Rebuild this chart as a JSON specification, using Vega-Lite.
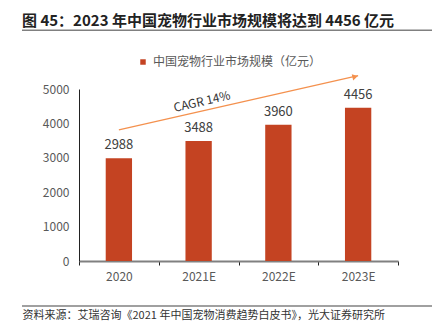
{
  "$schema": "https://vega.github.io/schema/vega-lite/v6.json",
  "width": 319,
  "height": 172,
  "autosize": {"type": "none"},
  "padding": {"left": 79, "top": 89, "right": 34, "bottom": 69},
  "background": "white",
  "config": {
    "font": "Noto Sans CJK SC",
    "view": {"stroke": null},
    "axis": {"grid": false}
  },
  "title": {
    "text": "图 45：2023 年中国宠物行业市场规模将达到 4456 亿元",
    "anchor": "start",
    "frame": "group",
    "dx": -57,
    "dy": 14,
    "fontSize": 15,
    "fontWeight": "bold",
    "color": "#222222",
    "baseline": "middle",
    "offset": 8
  },
  "resolve": {"scale": {"x": "independent", "y": "independent"}},
  "layer": [
    {
      "data": {
        "values": [
          {"year": "2020", "value": 2988, "series": "中国宠物行业市场规模（亿元）"},
          {"year": "2021E", "value": 3488, "series": "中国宠物行业市场规模（亿元）"},
          {"year": "2022E", "value": 3960, "series": "中国宠物行业市场规模（亿元）"},
          {"year": "2023E", "value": 4456, "series": "中国宠物行业市场规模（亿元）"}
        ]
      },
      "encoding": {
        "x": {
          "field": "year",
          "type": "nominal",
          "sort": null,
          "scale": {"paddingInner": 0, "paddingOuter": 0},
          "axis": {
            "labelAngle": 0,
            "labelFontSize": 12,
            "labelColor": "#595959",
            "labelPadding": 6,
            "domainColor": "#808080",
            "domainWidth": 2,
            "tickBand": "extent",
            "tickColor": "#222222",
            "tickSize": 4,
            "title": "资料来源：艾瑞咨询《2021 年中国宠物消费趋势白皮书》，光大证券研究所",
            "titleX": -57,
            "titleY": 54,
            "titleAlign": "left",
            "titleBaseline": "middle",
            "titleFontSize": 11,
            "titleFontWeight": "normal",
            "titleColor": "#333333"
          }
        },
        "y": {
          "field": "value",
          "type": "quantitative",
          "scale": {"domain": [0, 5000], "nice": false},
          "axis": {
            "title": null,
            "values": [0, 1000, 2000, 3000, 4000, 5000],
            "format": "d",
            "ticks": false,
            "labelOverlap": false,
            "labelFlush": false,
            "labelFontSize": 12,
            "labelColor": "#595959",
            "labelPadding": 10,
            "domainColor": "#222222",
            "domainWidth": 1
          }
        }
      },
      "layer": [
        {
          "mark": {"type": "bar", "width": {"band": 0.33}},
          "encoding": {
            "color": {
              "field": "series",
              "type": "nominal",
              "scale": {"range": ["#C44322"]},
              "legend": {
                "title": null,
                "orient": "none",
                "legendX": 58,
                "legendY": -33,
                "symbolType": "square",
                "symbolSize": 30,
                "labelFontSize": 12,
                "labelColor": "#595959",
                "labelOffset": 4,
                "labelLimit": 400,
                "padding": 0
              }
            }
          }
        },
        {
          "mark": {"type": "text", "baseline": "bottom", "dy": -6, "fontSize": 13, "color": "#404040"},
          "encoding": {
            "text": {"field": "value", "type": "nominal"}
          }
        },
        {
          "data": {"values": [{"year": "2020", "value": 3811}, {"year": "2023E", "value": 5386}]},
          "mark": {"type": "line", "color": "#F4914E", "strokeWidth": 1.3}
        },
        {
          "data": {"values": [{"year": "2023E", "value": 5386}]},
          "mark": {"type": "point", "shape": "triangle-right", "filled": true, "opacity": 1, "size": 40, "angle": 347, "xOffset": -3, "yOffset": 1, "color": "#F4914E"}
        },
        {
          "data": {"values": [{"year": "2021E", "value": 4400, "label": "CAGR   14%"}]},
          "mark": {"type": "text", "angle": 347, "fontSize": 12, "color": "#333333", "baseline": "bottom", "dx": 5},
          "encoding": {
            "text": {"field": "label"}
          }
        }
      ]
    },
    {
      "data": {"values": [{"x1": -57, "x2": 353, "value": 6705}, {"x1": -57, "x2": 353, "value": -1310}]},
      "mark": {"type": "rule", "color": "#808080", "strokeWidth": 1.5},
      "encoding": {
        "x": {"field": "x1", "type": "quantitative", "scale": {"domain": [0, 319], "nice": false, "zero": false}, "axis": null},
        "x2": {"field": "x2"},
        "y": {"field": "value", "type": "quantitative", "scale": {"domain": [0, 5000], "nice": false, "zero": false}, "axis": null}
      }
    }
  ]
}
